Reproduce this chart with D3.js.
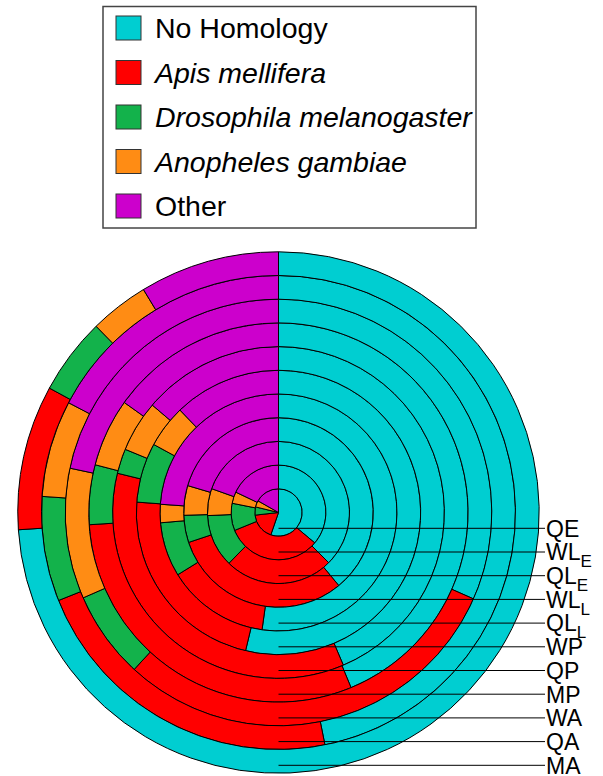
<!DOCTYPE html>
<html>
<head>
<meta charset="utf-8">
<script src="https://cdn.jsdelivr.net/npm/d3@7"></script>
<style>
  html, body { margin: 0; padding: 0; background: #fff; }
  svg { display: block; }
  text { font-family: "Liberation Sans", Arial, sans-serif; }
</style>
</head>
<body>
<svg id="chart" width="603" height="776"></svg>
<script>
// ---- data (share of each ring, inner -> outer, in degrees of 360) ----
const ringBase = ["QE", "WL", "QL", "WL", "QL", "WP", "QP", "MP", "WA", "QA", "MA"];
const ringSub  = ["", "E", "E", "L", "L", "", "", "", "", "", ""];
const seriesNames = ["No Homology", "Apis mellifera", "Drosophila melanogaster", "Anopheles gambiae", "Other"];
const seriesItalic = [false, true, true, true, false];
const seriesColors = ["#00CED1", "#FF0000", "#13B24B", "#FF8C14", "#CC00CC"];
const noHomology = [199, 130, 135, 140.5, 188, 193.4, 157, 157.5, 113.9, 168.7, 266.2];
const apis       = [64.5, 117.8, 89.3, 111.1, 50.3, 80.8, 126.7, 108.8, 108.7, 79.5, 32.3];
const drosophila = [20.2, 33.5, 43.2, 16.7, 26.7, 24.4, 8.7, 18.3, 23.8, 25.7, 17.1];
const anopheles  = [15.9, 14.2, 22.1, 18.2, 9, 17.5, 18, 20.9, 35.6, 23.7, 13.2];
const other      = [60.4, 64.5, 70.4, 73.5, 86, 43.9, 49.6, 54.5, 78, 62.4, 31.2];

const series = [noHomology, apis, drosophila, anopheles, other];

const svg = d3.select("#chart");
const cx = 278.5, cy = 512.5, R = 260.7;

const rScale = d3.scaleLinear().domain([0, ringBase.length]).range([0, R]);

const pie = d3.pie().sort(null).value(d => d.v);
const g = svg.append("g").attr("transform", `translate(${cx},${cy})`);

ringBase.forEach((name, i) => {
  const vals = series.map((s, k) => ({ v: s[i], k }));
  const arcs = pie(vals);
  const arc = d3.arc().innerRadius(rScale(i)).outerRadius(rScale(i + 1));
  g.selectAll(null).data(arcs).enter().append("path")
    .attr("d", arc)
    .attr("fill", d => seriesColors[d.data.k])
    .attr("stroke", "#000")
    .attr("stroke-width", 1)
    .attr("stroke-linejoin", "round");
});

// label lines and labels
const labelY = d3.scaleLinear().domain([0, ringBase.length]).range([cy + rScale(2/3), cy + rScale(ringBase.length + 2/3)]);
ringBase.forEach((name, i) => {
  const y = labelY(i);
  svg.append("line")
    .attr("x1", cx).attr("x2", 545)
    .attr("y1", y).attr("y2", y)
    .attr("stroke", "#000").attr("stroke-width", 1);
  const t = svg.append("text")
    .attr("x", 546).attr("y", y + 8.3)
    .attr("font-size", 23).attr("fill", "#000");
  t.append("tspan").text(name);
  if (ringSub[i]) {
    t.append("tspan").attr("dy", 7).attr("font-size", 17).text(ringSub[i]);
  }
});

// legend
const lg = svg.append("g");
lg.append("rect").attr("x", 103).attr("y", 6.5).attr("width", 373).attr("height", 221.5)
  .attr("fill", "#fff").attr("stroke", "#444").attr("stroke-width", 1.5);
const rowY = d3.scaleLinear().domain([0, 4]).range([28, 206]);
seriesNames.forEach((n, k) => {
  const y = rowY(k);
  lg.append("rect").attr("x", 116).attr("y", y - 12).attr("width", 25).attr("height", 24)
    .attr("fill", seriesColors[k]).attr("stroke", "#333").attr("stroke-width", 1);
  lg.append("text").attr("x", 155).attr("y", y + 10)
    .attr("font-size", 28.5)
    .attr("font-style", seriesItalic[k] ? "italic" : "normal")
    .attr("fill", "#000")
    .text(n);
});
</script>
</body>
</html>
